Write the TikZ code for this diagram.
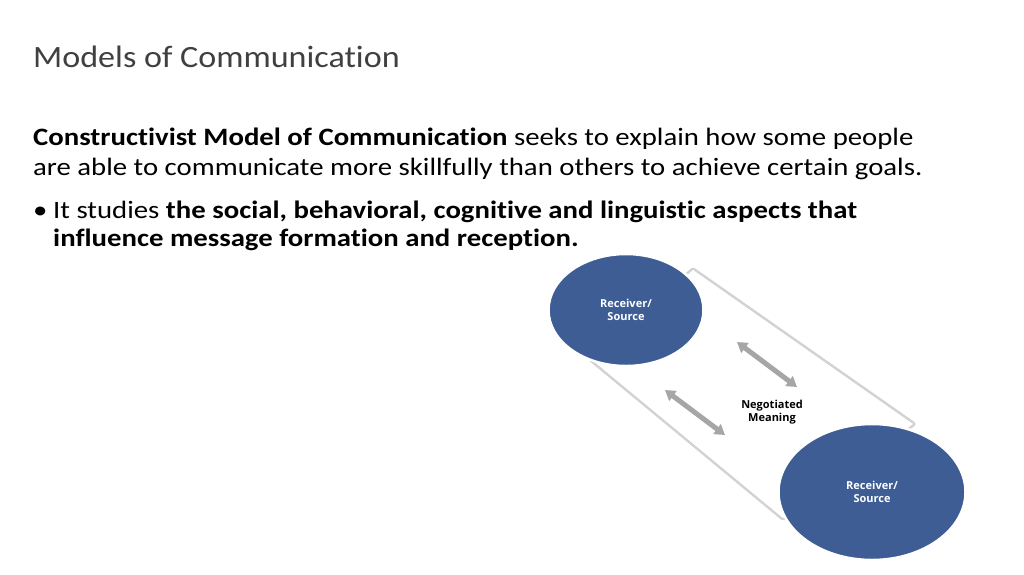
\documentclass[tikz,border=0pt]{standalone}
\usepackage{fontspec}
\setmainfont[Ligatures=NoCommon]{Carlito}
\newfontfamily\bodyfont[Ligatures=NoCommon,FakeStretch=1.15]{Carlito}
\newfontfamily\titlefont[Ligatures=NoCommon,FakeStretch=1.1]{Carlito}
\newfontfamily\diagfont{Open Sans}
\usetikzlibrary{arrows.meta,shapes.geometric}
\definecolor{ovalblue}{HTML}{3D5D94}
\definecolor{titlegray}{HTML}{404040}
\tikzset{
  oval/.style={ellipse, fill=ovalblue, draw=white, line width=2.5pt, font=\diagfont\bfseries\fontsize{11}{13}\selectfont, text=white, align=center},
  dblarrow/.style={{Triangle[width=12pt,length=10pt]}-{Triangle[width=12pt,length=10pt]}, line width=5pt, draw=gray!70},
  body/.style={anchor=base west, font=\bodyfont\fontsize{25}{29}\selectfont, inner sep=0pt}
}
\begin{document}
\begin{tikzpicture}[x=1pt,y=-1pt]
\useasboundingbox (0,0) rectangle (1024,574);
\node[anchor=base west, inner sep=0pt, text=titlegray, font=\titlefont\fontsize{31}{36}\selectfont] (title) at (33,67) {Models of Communication};
\node[body] (l1) at (33,145) {\textbf{Constructivist Model of Communication} seeks to explain how some people};
\node[body] (l2) at (33,175) {are able to communicate more skillfully than others to achieve certain goals.};
\node[body] (b) at (33,218) {\textbullet};
\node[body] (l3) at (53,218) {It studies \textbf{the social, behavioral, cognitive and linguistic aspects that}};
\node[body] (l4) at (53,246) {\textbf{influence message formation and reception.}};
% tube
\fill[white, draw=gray!35, line width=5pt, line join=round] (693,270) -- (913,424) -- (783,518) -- (592,360) -- cycle;
\fill[white] (693,270) -- (913,424) -- (783,518) -- (592,360) -- cycle;
\node[oval, minimum width=155pt, minimum height=112pt] (top) at (626,310) {Receiver/\\Source};
\node[oval, minimum width=187pt, minimum height=136pt] (bot) at (872,492) {Receiver/\\Source};
\coordinate (a1s) at (737,342); \coordinate (a1e) at (797,387);
\coordinate (a2s) at (665,390); \coordinate (a2e) at (725,435);
\draw[dblarrow] (a1s) -- (a1e);
\draw[dblarrow] (a2s) -- (a2e);
\node[font=\diagfont\bfseries\fontsize{11}{13}\selectfont, align=center] (nm) at (772,412) {Negotiated\\Meaning};
\end{tikzpicture}
\end{document}
